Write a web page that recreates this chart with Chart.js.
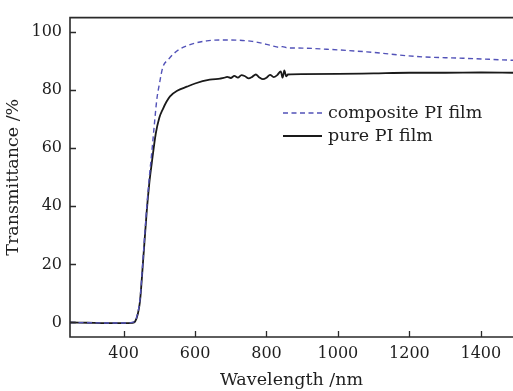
<!DOCTYPE html>
<html>
<head>
<meta charset="utf-8">
<script src="https://cdn.jsdelivr.net/npm/chart.js@4.4.1/dist/chart.umd.min.js"></script>
<style>
    html, body { margin: 0; padding: 0; background: #fff; }
    #wrap { position: relative; width: 513px; height: 391px; }
</style>
</head>
<body>
<div id="wrap"><canvas id="specChart"></canvas></div>
<script>
// Transmittance spectra data
const pureWavelength = [250, 300, 350, 400, 425, 432, 440, 446, 455, 465, 472, 479, 490, 500, 510, 520, 530, 550, 577, 600, 641, 670,
    680, 690, 700, 710, 720, 730, 740, 750, 760, 770, 780, 790, 800, 810, 820, 830, 840, 845, 850, 855, 860,
    900, 1000, 1100, 1200, 1300, 1400, 1490];
const pureT = [0, -0.1, -0.2, -0.2, -0.1, 0.3, 3, 7.4, 21.8, 38.6, 48, 55, 65, 70.5, 73.5, 76, 77.9, 79.8, 81.2, 82.3, 83.6, 84,
    84.2, 84.6, 84.2, 84.9, 84.3, 85.2, 84.8, 84.1, 84.6, 85.4, 84.4, 83.8, 84.3, 85.3, 84.5, 85.2, 86.5, 84.3, 86.8, 84.8, 85.4,
    85.5, 85.6, 85.8, 86, 86, 86.1, 86];

const compositeWavelength = [250, 400, 430, 440, 446, 455, 465, 472, 479, 486, 493, 500, 510, 525, 538, 555, 577, 600, 633, 670,
    722, 760, 800, 818, 835, 845, 857, 900, 969, 1081, 1220, 1350, 1490];
const compositeT = [0, -0.2, 0.2, 3.5, 8, 23, 40, 50, 58.7, 68, 76.8, 82, 88, 90.5, 92.3, 94, 95.3, 96.2, 97, 97.3,
    97.2, 96.8, 95.8, 95.2, 94.8, 95.0, 94.6, 94.5, 94.1, 93.2, 91.6, 91, 90.3];

const seriesLabels = ['composite PI film', 'pure PI film'];
const xTicks = [400, 600, 800, 1000, 1200, 1400];
const yTicks = [0, 20, 40, 60, 80, 100];

const serif = '"DejaVu Serif", "Liberation Serif", serif';

function toPoints(xs, ys) {
    return xs.map((x, i) => ({ x: x, y: ys[i] }));
}

// Frame, inward ticks and in-plot legend
const framePlugin = {
    id: 'frame',
    afterDraw(chart) {
        const ctx = chart.ctx;
        const a = chart.chartArea;
        const xs = chart.scales.x;
        const ys = chart.scales.y;
        ctx.save();
        ctx.strokeStyle = '#2a2a2a';
        ctx.lineWidth = 1.6;
        ctx.beginPath();
        ctx.moveTo(a.right + 2, a.top);
        ctx.lineTo(a.left, a.top);
        ctx.lineTo(a.left, a.bottom);
        ctx.lineTo(a.right + 2, a.bottom);
        ctx.stroke();

        ctx.lineWidth = 1.3;
        ctx.beginPath();
        xTicks.forEach(v => {
            const px = Math.round(xs.getPixelForValue(v)) + 0.5;
            ctx.moveTo(px, a.bottom);
            ctx.lineTo(px, a.bottom - 6);
        });
        yTicks.forEach(v => {
            const py = Math.round(ys.getPixelForValue(v)) + 0.5;
            ctx.moveTo(a.left, py);
            ctx.lineTo(a.left + 6, py);
        });
        ctx.stroke();

        // legend
        const items = chart.data.datasets;
        const lx = 283, ly = 113, gap = 23;
        ctx.font = '17.5px ' + serif;
        ctx.textBaseline = 'middle';
        ctx.fillStyle = '#1e1e1e';
        items.forEach((ds, i) => {
            const y = ly + i * gap;
            ctx.beginPath();
            ctx.strokeStyle = ds.borderColor;
            ctx.lineWidth = ds.borderWidth;
            ctx.setLineDash(ds.borderDash || []);
            ctx.moveTo(lx, y);
            ctx.lineTo(lx + 39, y);
            ctx.stroke();
            ctx.setLineDash([]);
            ctx.fillText(ds.label, lx + 45, y);
        });
        ctx.restore();
    }
};

const chartCtx = document.getElementById('specChart');

new Chart(chartCtx, {
    type: 'line',
    data: {
        datasets: [{
            label: seriesLabels[0],
            data: toPoints(compositeWavelength, compositeT),
            borderColor: '#5252b8',
            borderWidth: 1.4,
            borderDash: [5, 3.5],
            pointRadius: 0,
            cubicInterpolationMode: 'monotone',
            fill: false
        }, {
            label: seriesLabels[1],
            data: toPoints(pureWavelength, pureT),
            borderColor: '#1a1a1a',
            borderWidth: 1.8,
            pointRadius: 0,
            cubicInterpolationMode: 'monotone',
            fill: false
        }]
    },
    options: {
        responsive: true,
        maintainAspectRatio: false,
        animation: false,
        layout: {
            padding: { top: 9, right: 0, left: 0, bottom: 0 }
        },
        plugins: {
            legend: { display: false },
            tooltip: { enabled: false }
        },
        scales: {
            x: {
                type: 'linear',
                min: 250,
                max: 1490,
                afterBuildTicks: scale => { scale.ticks = xTicks.map(v => ({ value: v })); },
                afterFit: scale => { scale.height = 54; },
                grid: { display: false, drawTicks: false },
                border: { display: false },
                ticks: {
                    padding: 7,
                    color: '#1e1e1e',
                    font: { family: serif, size: 16 },
                    callback: value => String(value)
                },
                title: {
                    display: true,
                    text: 'Wavelength /nm',
                    color: '#1e1e1e',
                    font: { family: serif, size: 17.5 },
                    padding: { top: 0, bottom: 0 }
                }
            },
            y: {
                min: -5,
                max: 105,
                afterBuildTicks: scale => { scale.ticks = yTicks.map(v => ({ value: v })); },
                afterFit: scale => { scale.width = 70; },
                grid: { display: false, drawTicks: false },
                border: { display: false },
                ticks: {
                    padding: 8,
                    color: '#1e1e1e',
                    font: { family: serif, size: 16 },
                    callback: value => String(value)
                },
                title: {
                    display: true,
                    text: 'Transmittance /%',
                    color: '#1e1e1e',
                    font: { family: serif, size: 17.5 },
                    padding: { top: 3, bottom: 0 }
                }
            }
        }
    },
    plugins: [framePlugin]
});
</script>
</body>
</html>
